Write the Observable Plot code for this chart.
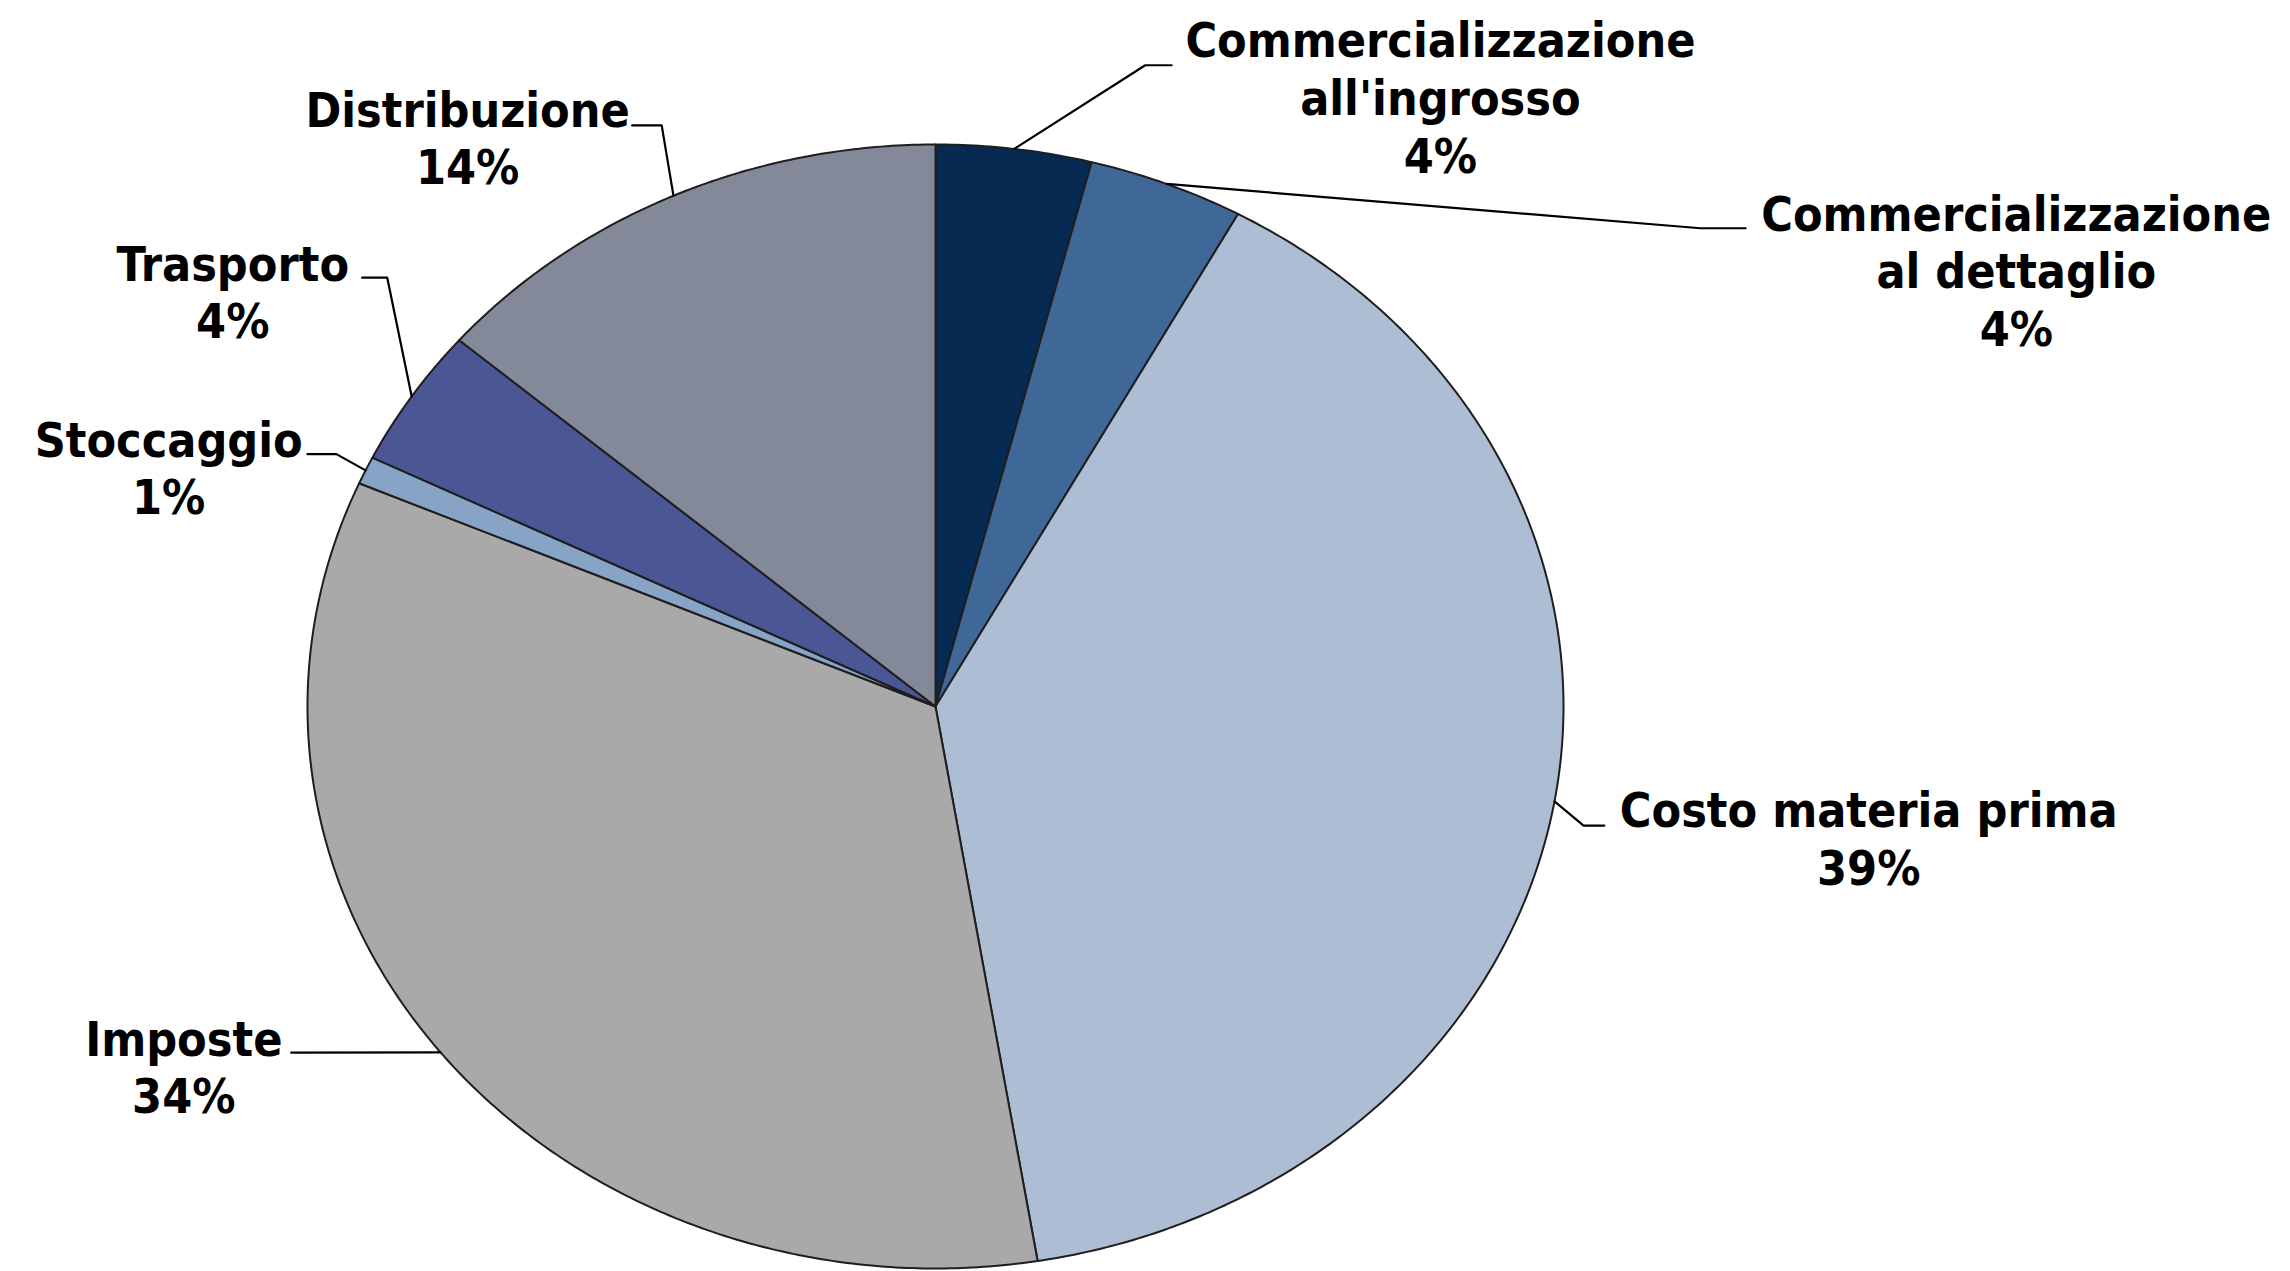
<!DOCTYPE html>
<html>
<head>
<meta charset="utf-8">
<script src="https://cdn.jsdelivr.net/npm/d3@7"></script>
<script src="https://cdn.jsdelivr.net/npm/@observablehq/plot@0.6"></script>
<style>
  html, body { margin: 0; padding: 0; background: #ffffff; }
  #chart svg { display: block; overflow: visible; }
</style>
</head>
<body>
<div id="chart"></div>
<script>
// ---- data (clockwise from 12 o'clock) ----
const categories = [
  "Commercializzazione\nall'ingrosso",
  "Commercializzazione\nal dettaglio",
  "Costo materia prima",
  "Imposte",
  "Stoccaggio",
  "Trasporto",
  "Distribuzione"
];
const shares = [4.0, 4.0, 39.4, 34.1, 0.8, 4.0, 13.7];
const colors = ["#072a52", "#3f6899", "#adbed4", "#a9a9a9", "#87a3c6", "#4a5794", "#848999"];

// ---- label layout (in pie units: radius = 1, y up) ----
const labelElbow = [[0.334, 1.141], [1.218, 0.851], [1.032, -0.212], [-1.026, -0.616], [-0.954, 0.449], [-0.873, 0.763], [-0.436, 1.034]];
const labelEnd   = [[0.376, 1.141], [1.290, 0.851], [1.065, -0.212], [-1.026, -0.616], [-1.000, 0.449], [-0.913, 0.763], [-0.483, 1.034]];
const labelText  = [[0.804, 0.950], [1.721, 0.642], [1.486, -0.317], [-1.197, -0.724], [-1.221, 0.342], [-1.119, 0.655], [-0.745, 0.929]];

// ---- build slices ----
const arcs = d3.pie().sort(null).value(d => d)(shares);
const slicePts = [];
arcs.forEach((a, i) => {
  const name = categories[i];
  slicePts.push({name, x: 0, y: 0});
  const n = Math.max(2, Math.ceil((a.endAngle - a.startAngle) / (Math.PI / 360)));
  for (let k = 0; k <= n; k++) {
    const t = a.startAngle + (a.endAngle - a.startAngle) * k / n;
    slicePts.push({name, x: Math.sin(t), y: Math.cos(t)});
  }
});

const leaderPts = [];
const labels = [];
arcs.forEach((a, i) => {
  const name = categories[i];
  const m = (a.startAngle + a.endAngle) / 2;
  leaderPts.push({name, x: Math.sin(m), y: Math.cos(m)});
  leaderPts.push({name, x: labelElbow[i][0], y: labelElbow[i][1]});
  leaderPts.push({name, x: labelEnd[i][0], y: labelEnd[i][1]});
  labels.push({name, x: labelText[i][0], y: labelText[i][1], text: name + "\n" + Math.round(shares[i]) + "%"});
});

const chart = Plot.plot({
  width: 2290,
  height: 1271,
  margin: 0,
  x: {domain: [-1, 1], range: [307, 1563], axis: null},
  y: {domain: [-1, 1], range: [1268, 144], axis: null},
  color: {domain: categories, range: colors},
  style: {fontFamily: "'DejaVu Sans Condensed', 'DejaVu Sans', sans-serif", fontStretch: "condensed", background: "#ffffff"},
  marks: [
    Plot.line(slicePts, {x: "x", y: "y", z: "name", fill: "name", stroke: "#1e1e1e", strokeWidth: 2, curve: "linear-closed", strokeLinejoin: "round"}),
    Plot.line(leaderPts, {x: "x", y: "y", z: "name", stroke: "#000000", strokeWidth: 2.2}),
    Plot.text(labels, {x: "x", y: "y", text: "text", lineAnchor: "bottom", lineHeight: 1.2, fontSize: 48, fontWeight: "bold", fill: "#000000", textAnchor: "middle"})
  ]
});
document.getElementById("chart").appendChild(chart);
</script>
</body>
</html>
